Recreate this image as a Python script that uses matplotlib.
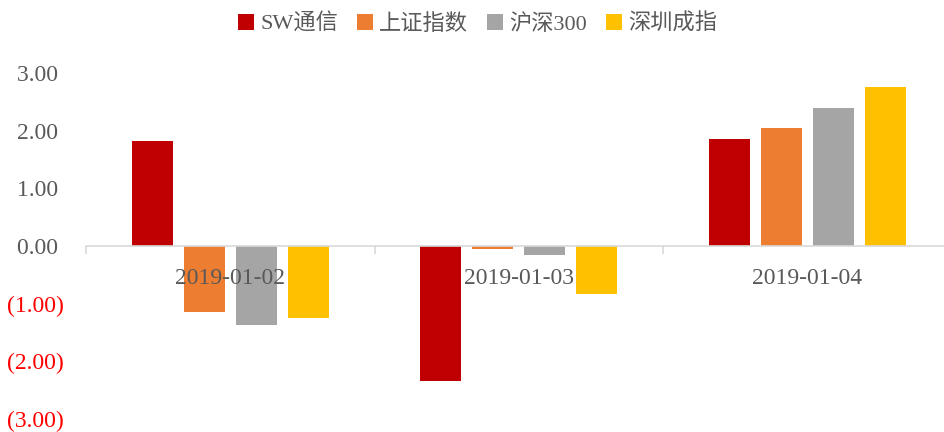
import matplotlib
matplotlib.use("Agg")
import matplotlib.pyplot as plt
import numpy as np

categories = ["2019-01-02", "2019-01-03", "2019-01-04"]
series_names = ["SW通信", "上证指数", "沪深300", "深圳成指"]
sw_tongxin = [1.82, -2.34, 1.85]
shangzheng = [-1.14, -0.05, 2.05]
hushen300 = [-1.37, -0.16, 2.39]
shenzhen = [-1.25, -0.83, 2.76]
yticks = [-3, -2, -1, 0, 1, 2, 3]

colors = ["#C00000", "#ED7D31", "#A5A5A5", "#FFC000"]
fam = ["Liberation Serif", "Noto Sans CJK SC"]
plt.rcParams["font.family"] = fam

fig = plt.figure(figsize=(9.44, 4.32), dpi=100)
ax = fig.add_axes([86/944, 1-419/432, 865.5/944, (419-73)/432])
ax.set_axisbelow(False)

x = np.arange(len(categories))
step = 0.18
width = 0.142
data = [sw_tongxin, shangzheng, hushen300, shenzhen]
for i, (name, vals) in enumerate(zip(series_names, data)):
    ax.bar(x + (i - 1.5) * step, vals, width, color=colors[i], label=name, zorder=2)

ax.set_xlim(-0.5, len(categories) - 0.5)
ax.set_ylim(-3, 3)
ax.set_yticks(yticks)
labels = []
for v in yticks:
    labels.append(f"({abs(v):.2f})" if v < 0 else f"{v:.2f} ")
ax.set_yticklabels(labels)
for t, v in zip(ax.get_yticklabels(), yticks):
    t.set_color("#FF0000" if v < 0 else "#595959")
ax.tick_params(axis="y", length=0, labelsize=17, pad=15.8)

for s in ["top", "right", "left"]:
    ax.spines[s].set_visible(False)
ax.spines["bottom"].set_position(("data", 0))
ax.spines["bottom"].set_color("#D9D9D9")
ax.spines["bottom"].set_linewidth(1.2)

ax.set_xticks(x)
ax.set_xticklabels(categories)
ax.tick_params(axis="x", which="major", length=0, labelsize=17, labelcolor="#595959", pad=16)
ax.set_xticks(np.arange(-0.5, len(categories) + 0.5, 1), minor=True)
ax.tick_params(axis="x", which="minor", length=6, width=1.2, color="#D9D9D9")

leg = fig.legend(loc="upper center", bbox_to_anchor=(0.506, 1.015), ncol=4, frameon=False,
                 fontsize=16, handlelength=0.7, handleheight=0.7, handletextpad=0.3,
                 columnspacing=0.85)
for t in leg.get_texts():
    t.set_color("#595959")

fig.savefig("out.png", dpi=100)
